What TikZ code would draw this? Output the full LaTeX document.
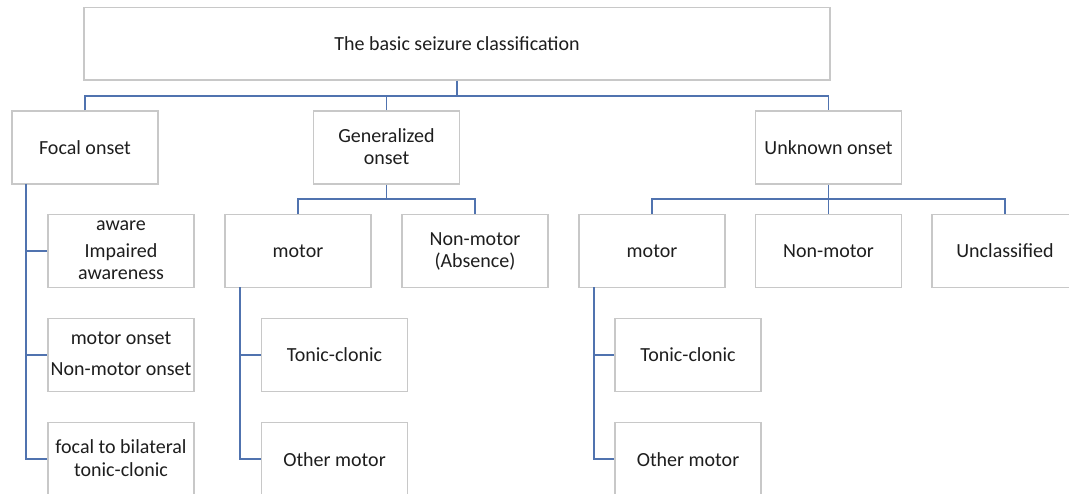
\documentclass[tikz,border=0pt]{standalone}
\usepackage{fontspec}
\setmainfont{Carlito}
\definecolor{boxline}{RGB}{200,200,200}
\definecolor{connblue}{RGB}{80,115,175}
\definecolor{txt}{RGB}{30,30,30}
\newcommand{\topstrut}{\rule{0pt}{16pt}}
\newcommand{\botstrut}{\rule[-2pt]{0pt}{2pt}}
\begin{document}
\begin{tikzpicture}[x=1pt,y=-1pt,
  box/.style={draw=boxline, line width=1.2pt, fill=white, minimum width=146pt, minimum height=73pt,
    inner sep=0pt, align=center, text=txt, font=\fontsize{20}{22.5}\selectfont,
    execute at begin node=\topstrut, execute at end node=\botstrut},
  conn/.style={draw=connblue, line width=1.6pt}]
\useasboundingbox (0,0) rectangle (1069,494);
\clip (0,0) rectangle (1069,494);
% top
\node[box, minimum width=746pt, minimum height=72.5pt] (top) at (457,43.75) {The basic seizure classification};
% level 1
\node[box] (focal) at (85,147.5) {Focal onset};
\node[box] (gen) at (386.5,147.5) {Generalized\\onset};
\node[box] (unk) at (828.5,147.5) {Unknown onset};
% focal children
\node[box] (f1) at (121,251) {aware\\[4.5pt]Impaired\\awareness};
\node[box] (f2) at (121,355) {motor onset\\[8.5pt]Non-motor onset};
\node[box] (f3) at (121,459) {focal to bilateral\\tonic-clonic};
% generalized children
\node[box] (gm) at (298,251) {motor};
\node[box] (gnm) at (475,251) {Non-motor\\\smash{(Absence)}};
\node[box] (gtc) at (334.5,355) {Tonic-clonic};
\node[box] (gom) at (334.5,459) {Other motor};
% unknown children
\node[box] (um) at (652,251) {motor};
\node[box] (unm) at (828.5,251) {Non-motor};
\node[box] (ucl) at (1005,251) {Unclassified};
\node[box] (utc) at (688,355) {Tonic-clonic};
\node[box] (uom) at (688,459) {Other motor};
% connectors
\coordinate (bus) at (457,96);
\draw[conn] (top.south) -- (bus);
\draw[conn] (focal.north) |- (bus) -| (unk.north);
\draw[conn] (gen.north) -- (gen.north |- bus);
\coordinate (gbus) at (386.5,199);
\draw[conn] (gen.south) -- (gbus);
\draw[conn] (gm.north) |- (gbus) -| (gnm.north);
\coordinate (ubus) at (828.5,199);
\draw[conn] (unk.south) -- (unm.north);
\draw[conn] (um.north) |- (ubus) -| (ucl.north);
% focal vertical
\coordinate (fv) at (26,184);
\draw[conn] (fv) |- (f3.west);
\draw[conn] (fv |- f1.west) -- (f1.west);
\draw[conn] (fv |- f2.west) -- (f2.west);
% generalized motor vertical
\coordinate (gv) at (240,287.5);
\draw[conn] (gv) |- (gom.west);
\draw[conn] (gv |- gtc.west) -- (gtc.west);
% unknown motor vertical
\coordinate (uv) at (594,287.5);
\draw[conn] (uv) |- (uom.west);
\draw[conn] (uv |- utc.west) -- (utc.west);
\end{tikzpicture}
\end{document}
